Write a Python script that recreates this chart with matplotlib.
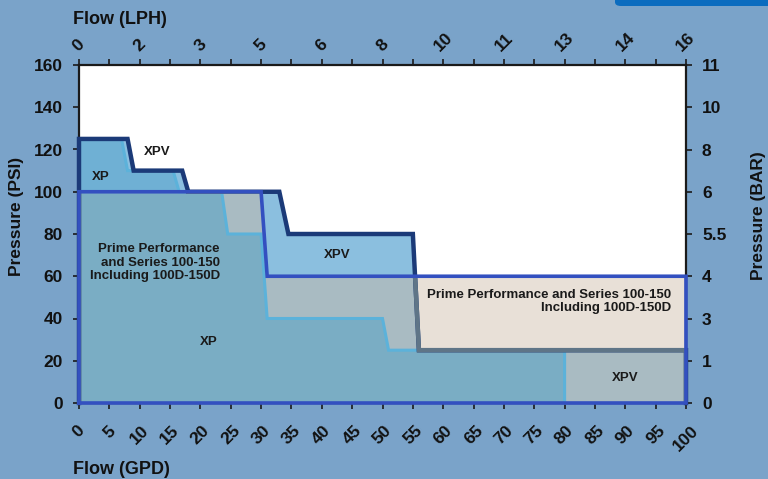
import matplotlib
matplotlib.use('Agg')
import matplotlib.pyplot as plt
from matplotlib.patches import FancyBboxPatch

plt.rcParams['font.family'] = ['Liberation Sans', 'DejaVu Sans']
plt.rcParams['font.weight'] = 'bold'

# Operating envelopes (flow in GPD, pressure in PSI)
xpv_flow = [0, 0, 8, 9, 17, 18, 33, 34.5, 55, 56, 100, 100]
xpv_psi = [0, 125, 125, 110, 110, 100, 100, 80, 80, 25, 25, 0]

xp_flow = [0, 0, 7, 8, 15.5, 16.5, 23.5, 24.5, 30, 31, 50, 51, 80, 80]
xp_psi = [0, 125, 125, 110, 110, 100, 100, 80, 80, 40, 40, 25, 25, 0]

prime_flow = [0, 0, 30, 31, 100, 100]
prime_psi = [0, 100, 100, 60, 60, 0]

# Axis ticks
gpd_ticks = [0, 5, 10, 15, 20, 25, 30, 35, 40, 45, 50, 55, 60, 65, 70, 75, 80, 85, 90, 95, 100]
lph_ticks = [0, 10, 20, 30, 40, 50, 60, 70, 80, 90, 100]
lph_labels = ['0', '2', '3', '5', '6', '8', '10', '11', '13', '14', '16']
psi_ticks = [0, 20, 40, 60, 80, 100, 120, 140, 160]
bar_labels = ['0', '1', '3', '4', '5.5', '6', '8', '10', '11']

bg = '#7aa3c9'
fig = plt.figure(figsize=(7.68, 4.79), dpi=100, facecolor=bg)
ax = fig.add_axes([79 / 768, 76 / 479, 607 / 768, 338 / 479])
ax.set_facecolor('white')
ax.set_xlim(0, 100)
ax.set_ylim(0, 160)

# decorative tab in the top right corner
fig.patches.append(FancyBboxPatch((615 / 768, 473 / 479), 0.3, 0.05, boxstyle='round,pad=0,rounding_size=0.008',
                                  transform=fig.transFigure, facecolor='#0b6cbf', edgecolor='none'))

# fills
xpv_fill = ax.fill(xpv_flow, xpv_psi, color='#8bbfdf', lw=0, zorder=1)[0]
prime_fill = ax.fill(prime_flow, prime_psi, color='#e8e0d7', lw=0, zorder=2)[0]
overlap = ax.fill(xpv_flow, xpv_psi, color='#a9bbc2', lw=0, zorder=3)[0]
overlap.set_clip_path(prime_fill)
ax.fill(xp_flow, xp_psi, color='#6fb0d4', lw=0, zorder=4)
xp_in = ax.fill(xp_flow, xp_psi, color='#7aadc4', lw=0, zorder=5)[0]
xp_in.set_clip_path(prime_fill)

# outlines
ax.plot(xp_flow, xp_psi, color='#5cb2da', lw=2.2, zorder=6, clip_on=False, solid_joinstyle='miter')
ax.plot(xpv_flow, xpv_psi, color='#1b3a78', lw=3.2, zorder=7, clip_on=False, solid_joinstyle='miter')
grey_line = ax.plot(xpv_flow, xpv_psi, color='#5f7587', lw=3.2, zorder=8, solid_joinstyle='miter')[0]
grey_line.set_clip_path(prime_fill)
ax.plot(prime_flow + [0], prime_psi + [0], color='#3350c0', lw=2.6, zorder=9, clip_on=False,
        solid_joinstyle='miter')

# labels inside the chart
tk = dict(fontsize=9.5, fontweight='bold', color='#1a1a1a', zorder=10)
ax.text(12.8, 119, 'XPV', ha='center', va='center', **tk)
ax.text(3.6, 107, 'XP', ha='center', va='center', **tk)
ax.text(23.2, 66.5, 'Prime Performance\nand Series 100-150\nIncluding 100D-150D', ha='right', va='center',
        linespacing=1.15, **tk)
ax.text(42.5, 70, 'XPV', ha='center', va='center', **tk)
ax.text(97.6, 48, 'Prime Performance and Series 100-150\nIncluding 100D-150D', ha='right', va='center',
        linespacing=1.15, **tk)
ax.text(90, 12, 'XPV', ha='center', va='center', **tk)
ax.text(21.4, 29, 'XP', ha='center', va='center', **tk)

# axes styling
for side in ['left', 'top', 'right', 'bottom']:
    ax.spines[side].set_color('#1a1a1a')
    ax.spines[side].set_linewidth(1.6)

ax.set_xticks(gpd_ticks)
ax.set_yticks(psi_ticks)
ax.tick_params(axis='both', direction='out', length=4.5, width=1.2, color='#1a1a1a', labelsize=12.5,
               labelcolor='#111111')
ax.tick_params(axis='y', pad=7)
ax.tick_params(axis='x', pad=10, labelrotation=45)
for lab in ax.get_xticklabels():
    lab.set_ha('center')
    lab.set_fontweight('bold')
for lab in ax.get_yticklabels():
    lab.set_fontweight('bold')

ax_r = ax.twinx()
ax_r.set_ylim(0, 160)
ax_r.set_yticks(psi_ticks, bar_labels)
ax_r.tick_params(axis='y', direction='out', length=4.5, width=1.2, color='#1a1a1a', labelsize=12.5,
                 labelcolor='#111111', pad=7)

ax_t = ax.twiny()
ax_t.set_xlim(0, 100)
ax_t.set_xticks(lph_ticks, lph_labels)
ax_t.set_xticks(gpd_ticks, minor=True)
ax_t.tick_params(axis='x', which='both', direction='out', length=4.5, width=1.2, color='#1a1a1a',
                 labelsize=12.5, labelcolor='#111111', pad=3, labelrotation=45)
for lab in ax_t.get_xticklabels():
    lab.set_ha('center')
for a in [ax_r, ax_t]:
    for side in a.spines:
        a.spines[side].set_visible(False)
    a.set_zorder(ax.get_zorder() - 1)
ax.set_zorder(5)
ax.patch.set_visible(True)

# axis titles
fig.text(73 / 768, 1 - 19 / 479, 'Flow (LPH)', fontsize=13, fontweight='bold', color='#111111',
         ha='left', va='center')
fig.text(73 / 768, 1 - 470 / 479, 'Flow (GPD)', fontsize=13, fontweight='bold', color='#111111',
         ha='left', va='center')
fig.text(17 / 768, 1 - 216 / 479, 'Pressure (PSI)', fontsize=12.5, fontweight='bold', color='#111111',
         rotation=90, ha='center', va='center')
fig.text(759 / 768, 1 - 216 / 479, 'Pressure (BAR)', fontsize=12.5, fontweight='bold', color='#111111',
         rotation=90, ha='center', va='center')

fig.savefig('out.png', dpi=100, facecolor=bg)
